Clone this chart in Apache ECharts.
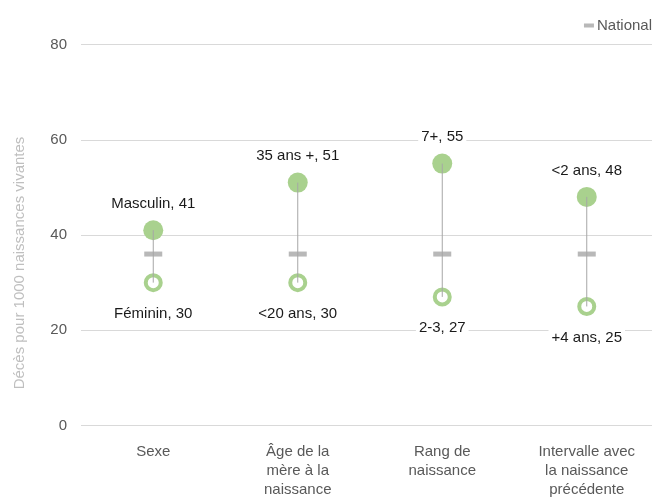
<!DOCTYPE html>
<html><head><meta charset="utf-8">
<script src="https://cdn.jsdelivr.net/npm/echarts@6/dist/echarts.min.js"></script>
<style>html,body{margin:0;padding:0;background:#fff}#c{width:652px;height:498px}</style>
</head><body><div id="c"></div>
<script>
const categories = ['Sexe', 'Âge de la\nmère à la\nnaissance', 'Rang de\nnaissance', 'Intervalle avec\nla naissance\nprécédente'];
const highValues = [41, 51, 55, 48];
const highLabels = ['Masculin', '35 ans +', '7+', '<2 ans'];
const lowValues = [30, 30, 27, 25];
const lowLabels = ['Féminin', '<20 ans', '2-3', '+4 ans'];
const nationalValues = [36, 36, 36, 36];
const yTicks = [0, 20, 40, 60, 80];

const FONT = 'Liberation Sans';
const GREEN = '#a9d18e';
const chart = echarts.init(document.getElementById('c'), null, {renderer: 'canvas'});
const labelStyle = {color: '#1a1a1a', fontSize: 15, fontFamily: FONT, backgroundColor: '#fff', padding: [1, 3]};

chart.setOption({
  animation: false,
  textStyle: {fontFamily: FONT},
  grid: {left: 81, width: 578, top: 44.5, bottom: 72.5, outerBoundsMode: 'none', containLabel: false},
  legend: {
    data: [{name: 'National', icon: 'rect'}],
    right: 0, top: 18, padding: 0, itemWidth: 10, itemHeight: 4, itemGap: 3,
    textStyle: {color: '#595959', fontSize: 15, fontFamily: FONT, padding: [0, 0, 0, -2]}
  },
  graphic: [{
    type: 'text', x: 20, y: 263, rotation: Math.PI / 2,
    style: {text: 'Décès pour 1000 naissances vivantes', fill: '#bfbfbf', fontSize: 15, fontFamily: FONT, align: 'center', verticalAlign: 'middle'}
  }],
  xAxis: {
    type: 'category', data: categories, boundaryGap: true,
    axisLine: {show: false}, axisTick: {show: false},
    axisLabel: {color: '#595959', fontSize: 15, lineHeight: 19, margin: 17, fontFamily: FONT, interval: 0}
  },
  yAxis: {
    type: 'value', min: yTicks[0], max: yTicks[yTicks.length - 1], interval: 20,
    axisLine: {show: false}, axisTick: {show: false},
    axisLabel: {color: '#595959', fontSize: 15, margin: 14, fontFamily: FONT},
    splitLine: {lineStyle: {color: '#d9d9d9', width: 1}}
  },
  series: [
    {
      name: 'Haut', type: 'scatter', symbol: 'circle', symbolSize: 20, z: 2,
      itemStyle: {color: GREEN, opacity: 1},
      data: highValues,
      label: {show: true, position: 'top', distance: 8, ...labelStyle,
        formatter: p => highLabels[p.dataIndex] + ', ' + p.value}
    },
    {
      name: 'Bas', type: 'scatter', symbol: 'circle', symbolSize: 15, z: 2,
      itemStyle: {color: '#fff', borderColor: GREEN, borderWidth: 4, opacity: 1},
      data: lowValues,
      label: {show: true, position: 'bottom', distance: 13, ...labelStyle,
        formatter: p => lowLabels[p.dataIndex] + ', ' + p.value}
    },
    {
      name: 'Écart', type: 'custom', z: 3,
      data: highValues.map((h, i) => [i, h, lowValues[i]]),
      renderItem: (params, api) => {
        const a = api.coord([api.value(0), api.value(1)]);
        const b = api.coord([api.value(0), api.value(2)]);
        return {type: 'line', shape: {x1: a[0], y1: a[1], x2: b[0], y2: b[1]},
          style: {stroke: '#a6a6a6', lineWidth: 1}};
      }
    },
    {
      name: 'National', type: 'scatter', symbol: 'rect', symbolSize: [18, 5], z: 4,
      itemStyle: {color: '#a6a6a6'},
      data: nationalValues
    }
  ]
});
</script></body></html>
